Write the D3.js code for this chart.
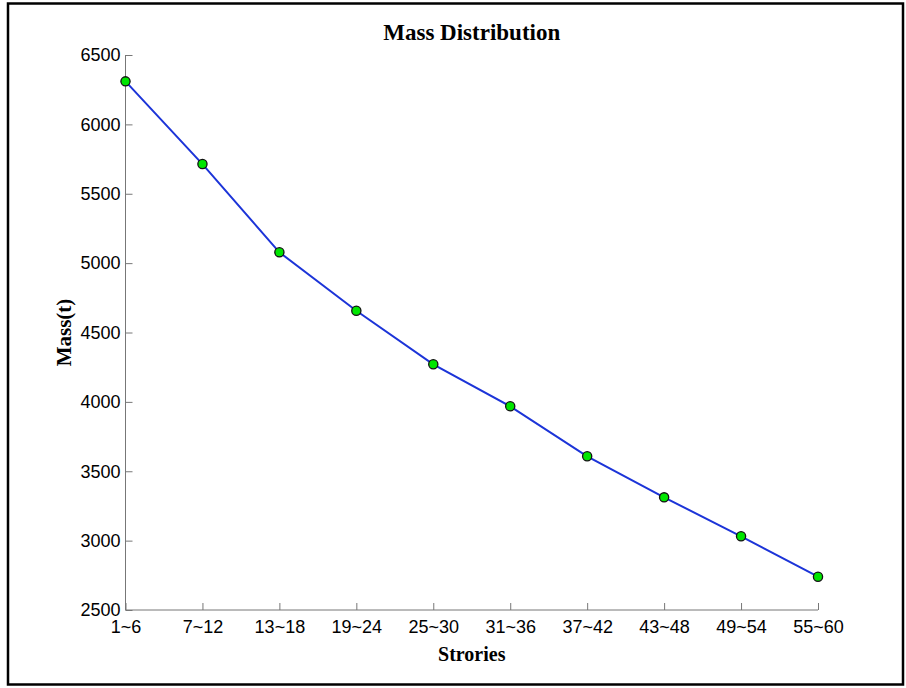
<!DOCTYPE html>
<html>
<head>
<meta charset="utf-8">
<script src="https://cdn.jsdelivr.net/npm/d3@7"></script>
<style>
  html, body { margin: 0; padding: 0; background: #fff; }
  svg { display: block; }
</style>
</head>
<body>
<script>
// Storey groups and their mass (t)
const categories = ["1~6", "7~12", "13~18", "19~24", "25~30", "31~36", "37~42", "43~48", "49~54", "55~60"];
const massValues = [6310, 5714, 5078, 4657, 4271, 3968, 3608, 3312, 3031, 2740];
const yTickValues = [2500, 3000, 3500, 4000, 4500, 5000, 5500, 6000, 6500];

const W = 906, H = 688;
const plot = { left: 125.5, right: 818, top: 55, bottom: 610 };

const svg = d3.select("body").append("svg")
  .attr("width", W).attr("height", H);

// outer frame
svg.append("rect")
  .attr("x", 8).attr("y", 3.5)
  .attr("width", 895).attr("height", 681)
  .attr("fill", "#fff")
  .attr("stroke", "#000")
  .attr("stroke-width", 2.5);

const x = d3.scalePoint().domain(categories).range([plot.left, plot.right]);
const y = d3.scaleLinear().domain([2500, 6500]).range([plot.bottom, plot.top]);

const axisColor = "#777";
const tickFont = "'Liberation Sans', Arial, Helvetica, sans-serif";

// y axis: ticks point into the plot
const yAxis = svg.append("g")
  .attr("transform", `translate(${plot.left},0)`)
  .call(d3.axisLeft(y).tickValues(yTickValues).tickSize(-7).tickPadding(6).tickFormat(d3.format("d")));
yAxis.select(".domain").attr("stroke", axisColor).attr("d", `M0,${plot.top}V${plot.bottom}`);
yAxis.selectAll(".tick line").attr("stroke", axisColor);
yAxis.selectAll(".tick text")
  .attr("x", -5)
  .attr("fill", "#000")
  .style("font-family", tickFont)
  .style("font-size", "18px");

// x axis: ticks point into the plot
const xAxis = svg.append("g")
  .attr("transform", `translate(0,${plot.bottom})`)
  .call(d3.axisBottom(x).tickSize(-7).tickPadding(8));
xAxis.select(".domain").attr("stroke", axisColor).attr("d", `M${plot.left},0H${plot.right}`);
xAxis.selectAll(".tick line").attr("stroke", axisColor);
xAxis.selectAll(".tick text")
  .attr("y", 10)
  .attr("dy", "0.71em")
  .attr("fill", "#000")
  .style("font-family", tickFont)
  .style("font-size", "18px");

// line
const line = d3.line()
  .x((d, i) => x(categories[i]))
  .y(d => y(d));

svg.append("path")
  .datum(massValues)
  .attr("fill", "none")
  .attr("stroke", "#1c34d8")
  .attr("stroke-width", 2)
  .attr("d", line);

// markers
svg.selectAll("circle.pt")
  .data(massValues)
  .join("circle")
  .attr("class", "pt")
  .attr("cx", (d, i) => x(categories[i]))
  .attr("cy", d => y(d))
  .attr("r", 4.6)
  .attr("fill", "#00e600")
  .attr("stroke", "#111")
  .attr("stroke-width", 1.3);

const serif = "'Liberation Serif', 'Times New Roman', Times, serif";

// title
svg.append("text")
  .attr("x", (plot.left + plot.right) / 2)
  .attr("y", 40)
  .attr("text-anchor", "middle")
  .style("font-family", serif)
  .style("font-weight", "bold")
  .style("font-size", "23px")
  .text("Mass Distribution");

// x label
svg.append("text")
  .attr("x", (plot.left + plot.right) / 2)
  .attr("y", 661)
  .attr("text-anchor", "middle")
  .style("font-family", serif)
  .style("font-weight", "bold")
  .style("font-size", "20px")
  .text("Strories");

// y label
svg.append("text")
  .attr("transform", `translate(71,${(plot.top + plot.bottom) / 2}) rotate(-90)`)
  .attr("text-anchor", "middle")
  .style("font-family", serif)
  .style("font-weight", "bold")
  .style("font-size", "21px")
  .text("Mass(t)");
</script>
</body>
</html>
